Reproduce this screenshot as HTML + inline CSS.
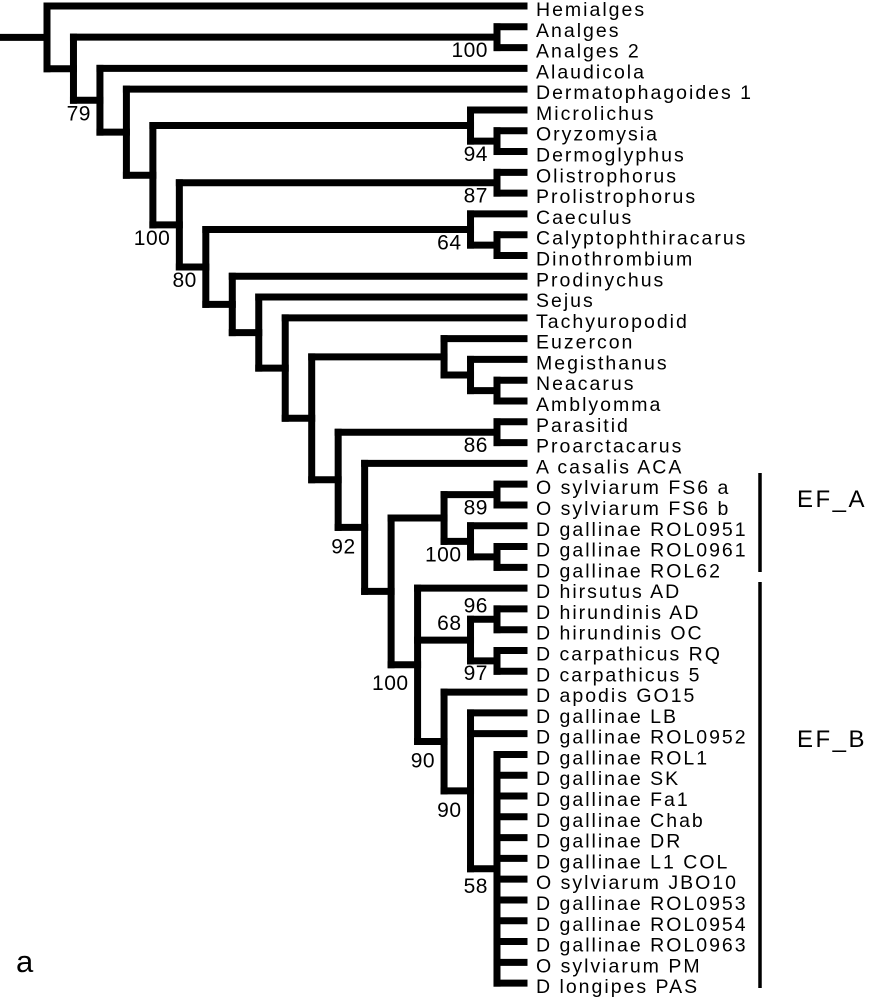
<!DOCTYPE html>
<html><head><meta charset="utf-8"><style>
html,body{margin:0;padding:0;background:#fff;}
svg{display:block;}
.leaf{font-family:"Liberation Sans",sans-serif;font-size:19.5px;letter-spacing:2px;fill:#000;}
.sup{font-family:"Liberation Sans",sans-serif;font-size:21px;letter-spacing:0.5px;fill:#000;}
.grp{font-family:"Liberation Sans",sans-serif;font-size:24px;letter-spacing:2.5px;fill:#000;}
</style></head><body>
<svg id="chart" width="870" height="1000" viewBox="0 0 870 1000" xmlns="http://www.w3.org/2000/svg">
<g id="branches"></g>
<g id="leaves"></g>
<g id="supports"></g>
<line x1="760" y1="473" x2="760" y2="572" stroke="#000" stroke-width="3.5"/>
<line x1="760" y1="582" x2="760" y2="988" stroke="#000" stroke-width="3.5"/>
<text class="grp" x="797" y="507">EF_A</text>
<text class="grp" x="797" y="747">EF_B</text>
<text x="16" y="972" font-family="Liberation Sans, sans-serif" font-size="31">a</text>
</svg>
<script>
const taxa = ["Hemialges","Analges","Analges 2","Alaudicola","Dermatophagoides 1","Microlichus","Oryzomysia","Dermoglyphus","Olistrophorus","Prolistrophorus","Caeculus","Calyptophthiracarus","Dinothrombium","Prodinychus","Sejus","Tachyuropodid","Euzercon","Megisthanus","Neacarus","Amblyomma","Parasitid","Proarctacarus","A casalis ACA","O sylviarum FS6 a","O sylviarum FS6 b","D gallinae ROL0951","D gallinae ROL0961","D gallinae ROL62","D hirsutus AD","D hirundinis AD","D hirundinis OC","D carpathicus RQ","D carpathicus 5","D apodis GO15","D gallinae LB","D gallinae ROL0952","D gallinae ROL1","D gallinae SK","D gallinae Fa1","D gallinae Chab","D gallinae DR","D gallinae L1 COL","O sylviarum JBO10","D gallinae ROL0953","D gallinae ROL0954","D gallinae ROL0963","O sylviarum PM","D longipes PAS"];
const N = (d, c, s, o) => ({d, c, s, o});
const poly = [36,37,38,39,40,41,42,43,44,45,46,47];
const tree =
N(0,[0,
 N(1,[N(17,[1,2],"100"),
  N(2,[3,
   N(3,[4,
    N(4,[N(16,[5,N(17,[6,7],"94")]),
     N(5,[N(17,[8,9],"87"),
      N(6,[N(16,[10,N(17,[11,12])],"64"),
       N(7,[13,
        N(8,[14,
         N(9,[15,
          N(10,[N(15,[16,N(16,[17,N(17,[18,19])])]),
           N(11,[N(17,[20,21],"86"),
            N(12,[22,
             N(13,[N(15,[N(17,[23,24],"89"),N(16,[25,N(17,[26,27])],"100")]),
              N(14,[28,
               N(16,[N(17,[29,30],"96",-7),N(17,[31,32],"97",19)],"68",-10),
               N(15,[33,N(16,[34,35,N(17,poly,"58",24)],"90",26)],"90",26)
              ],"100",25)
             ])
            ],"92",26)
           ])
          ])
         ])
        ])
       ])
      ],"80")
     ],"100")
    ])
   ])
  ],"79")
 ])
]);
const X0=47, DX=26.47, LEAFX=524, Y0=6, DY=20.79;
const ns="http://www.w3.org/2000/svg";
const gB=document.getElementById('branches'), gL=document.getElementById('leaves'), gS=document.getElementById('supports');
function line(x1,y1,x2,y2,name){
  const l=document.createElementNS(ns,'line');
  l.setAttribute('x1',x1);l.setAttribute('y1',y1);l.setAttribute('x2',x2);l.setAttribute('y2',y2);
  l.setAttribute('stroke','#000');l.setAttribute('stroke-width','7');l.setAttribute('stroke-linecap','square');
  
  
  gB.appendChild(l);
}
function yOf(n){ return typeof n==='number' ? Y0+DY*n : n.y; }
function layout(n){
  if(typeof n==='number') return Y0+DY*n;
  const ys=n.c.map(layout);
  n.y=(Math.min(...ys)+Math.max(...ys))/2;
  n.x=X0+DX*n.d;
  return n.y;
}
function draw(n){
  const ys=n.c.map(yOf);
  line(n.x,Math.min(...ys),n.x,Math.max(...ys),'clade-vertical');
  n.c.forEach(ch=>{
    if(typeof ch==='number'){
      line(n.x,yOf(ch),LEAFX,yOf(ch),'leaf-branch');
    } else {
      line(n.x,ch.y,ch.x,ch.y,'internal-branch');
      draw(ch);
    }
  });
  if(n.s){
    const t=document.createElementNS(ns,'text');
    t.setAttribute('class','sup');
    t.setAttribute('x',n.x-9);
    t.setAttribute('y',n.y+(n.o!==undefined?n.o:20));
    t.setAttribute('text-anchor','end');
    t.textContent=n.s;
    
    
    gS.appendChild(t);
  }
}
layout(tree);
line(-5,tree.y,tree.x,tree.y,'root-stem');
draw(tree);
taxa.forEach((name,i)=>{
  const t=document.createElementNS(ns,'text');
  t.setAttribute('class','leaf');
  t.setAttribute('x',536);
  t.setAttribute('y',Y0+DY*i+10);
  t.textContent=name;
  
  
  gL.appendChild(t);
});
</script>
</body></html>
